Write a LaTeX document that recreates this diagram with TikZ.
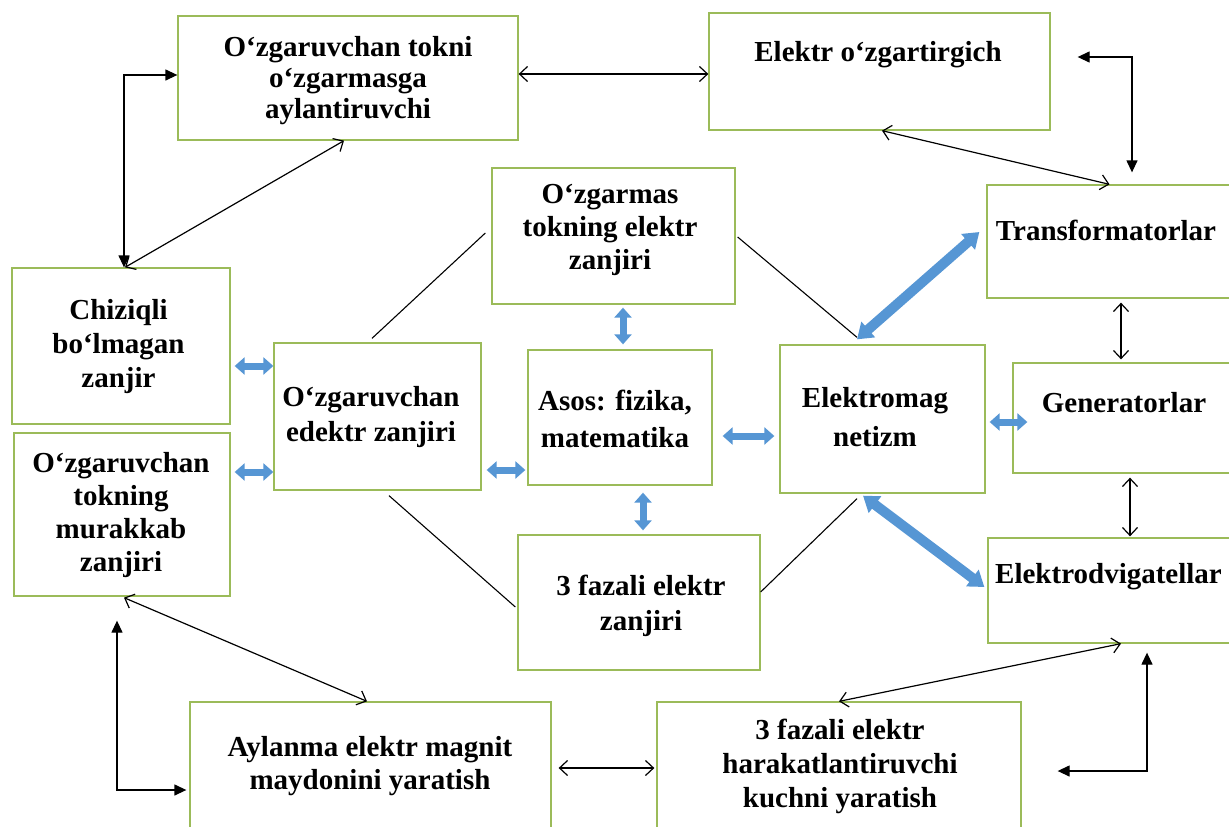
\documentclass[tikz,border=0pt]{standalone}
\usepackage{fontspec}
\setmainfont{Liberation Serif}
\usetikzlibrary{arrows.meta}
\definecolor{boxgreen}{RGB}{155,187,89}
\definecolor{arrblue}{RGB}{86,150,212}
\begin{document}
\begin{tikzpicture}[x=1pt,y=-1pt,
  box/.style={draw=boxgreen, line width=1.3pt, inner sep=0pt},
  txt/.style={font=\bfseries\fontsize{29}{#1}\selectfont, align=center, inner sep=0pt},
  txt/.default=33,
  dbl/.style={line width=1.2pt, {Straight Barb[length=8pt,width=15pt]}-{Straight Barb[length=8pt,width=15pt]}},
  fdbl/.style={line width=1.3pt, {Triangle[length=12pt,width=11pt]}-{Triangle[length=12pt,width=11pt]}},
  plain/.style={line width=1.1pt},
  bsmall/.style={draw=arrblue, line width=7pt, {Triangle[length=10pt,width=17pt]}-{Triangle[length=10pt,width=17pt]}},
  bbig/.style={draw=arrblue, line width=10pt, {Triangle[length=15pt,width=20pt]}-{Triangle[length=15pt,width=20pt]}}
]
\fill[white] (0,0) rectangle (1229,827);
\path[use as bounding box] (0,0) rectangle (1229,827);

% boxes
\node[box, minimum width=340, minimum height=124] (A) at (348,78) {};
\node[box, minimum width=341, minimum height=117] (B) at (879.5,71.5) {};
\node[box, minimum width=245, minimum height=113] (T) at (1109.5,241.5) {};
\node[box, minimum width=218, minimum height=156] (Ch) at (121,346) {};
\node[box, minimum width=216, minimum height=163] (M) at (122,514.5) {};
\node[box, minimum width=207, minimum height=147] (C) at (377.5,416.5) {};
\node[box, minimum width=243, minimum height=136] (D) at (613.5,236) {};
\node[box, minimum width=184, minimum height=135] (E) at (620,417.5) {};
\node[box, minimum width=205, minimum height=148] (F) at (882.5,419) {};
\node[box, minimum width=219, minimum height=110] (G) at (1122.5,418) {};
\node[box, minimum width=242, minimum height=135] (H) at (639,602.5) {};
\node[box, minimum width=244, minimum height=105] (I) at (1110,590.5) {};
\node[box, minimum width=361, minimum height=143] (J) at (370.5,773.5) {};
\node[box, minimum width=364, minimum height=143] (K) at (839,773.5) {};

% texts
\node[txt=31] (At) at (348,81) {O‘zgaruvchan tokni\\o‘zgarmasga\\aylantiruvchi};
\node[txt] (Bt) at (878,55) {Elektr o‘zgartirgich};
\node[txt] (Tt) at (1106,230) {Transformatorlar};
\node[txt=34] (Cht) at (118.5,347) {Chiziqli\\bo‘lmagan\\zanjir};
\node[txt=33] (Mt) at (121,515) {O‘zgaruvchan\\tokning\\murakkab\\zanjiri};
\node[txt=35] (Ct) at (371,417.5) {O‘zgaruvchan\\edektr zanjiri};
\node[txt=37] (Et) at (615,418.5) {Asos: fizika,\\matematika};
\node[txt=39] (Ft) at (875,417.5) {Elektromag\\netizm};
\node[txt] (Gt) at (1124,403) {Generatorlar};
\node[txt, anchor=west] (It) at (995,577) {Elektrodvigatellar};
\node[txt=35] (Ht) at (641,605.5) {3 fazali elektr\\zanjiri};
\node[txt=33] (Dt) at (610,230) {O‘zgarmas\\tokning elektr\\zanjiri};
\node[txt=33] (Jt) at (370,766.5) {Aylanma elektr magnit\\maydonini yaratish};
\node[txt=34] (Kt) at (840,766) {3 fazali elektr\\harakatlantiruvchi\\kuchni yaratish};

% black connectors
\draw[dbl] ([yshift=4]A.east) -- ([yshift=-2.5]B.west);
\draw[fdbl] ([yshift=3]A.west) -| ([xshift=3]Ch.north);
\draw[dbl] ([xshift=4]Ch.north) -- ([xshift=-4]A.south);
\draw[dbl] ([xshift=2.5]B.south) -- (T.north);
\draw[fdbl] ([xshift=27,yshift=14.5]B.east) -| ([xshift=22.5,yshift=12]T.north);
\draw[dbl] ([xshift=11.5,yshift=-4]T.south) -- ([xshift=-1.5,yshift=3]G.north);
\draw[dbl] ([xshift=7.5,yshift=-4]G.south) -- ([xshift=20,yshift=1]I.north);
\draw[dbl] ([xshift=11]I.south) -- (K.north);
\draw[fdbl] ([xshift=37,yshift=-9]I.south) |- ([xshift=36,yshift=2.5]K.east);
\draw[dbl] ([xshift=7,yshift=5.5]J.east) -- ([xshift=-2,yshift=5.5]K.west);
\draw[dbl] ([xshift=2,yshift=-1]M.south) -- ([xshift=-3.5]J.north);
\draw[fdbl] ([xshift=-5,yshift=-24]M.south) |- ([xshift=-3,yshift=-16.5]J.west);

% plain lines
\draw[plain] ([xshift=-5.5,yshift=4]C.north) -- ([xshift=-6,yshift=3]D.west);
\draw[plain] ([xshift=2,yshift=-1]D.east) -- ([xshift=-25.5,yshift=7]F.north);
\draw[plain] ([xshift=11.5,yshift=-5]C.south) -- ([xshift=-2,yshift=-4.5]H.west);
\draw[plain] ([yshift=10.5]H.east) -- ([xshift=-25.5,yshift=-5]F.south);

% blue arrows
\draw[bsmall] ([xshift=4,yshift=-20]Ch.east) -- ([yshift=50.5]C.west);
\draw[bsmall] ([xshift=4,yshift=42.5]M.east) -- ([yshift=-55.5]C.west);
\draw[bsmall] ([xshift=5,yshift=-53.5]C.east) -- ([xshift=-2,yshift=-52.5]E.west);
\draw[bsmall] ([xshift=9.5,yshift=-3]D.south) -- ([xshift=3,yshift=5]E.north);
\draw[bsmall] ([xshift=23,yshift=-7]E.south) -- ([xshift=4,yshift=4]H.north);
\draw[bsmall] ([xshift=10,yshift=-18.5]E.east) -- ([xshift=-5,yshift=-17]F.west);
\draw[bsmall] ([xshift=4,yshift=-3]F.east) -- ([xshift=15,yshift=-4]G.west);
\draw[bbig] ([xshift=-25.5,yshift=5]F.north) -- ([xshift=-7,yshift=9.5]T.west);
\draw[bbig] ([xshift=-19.5,yshift=-2]F.south) -- ([xshift=-3,yshift=3.5]I.west);
\end{tikzpicture}
\end{document}
